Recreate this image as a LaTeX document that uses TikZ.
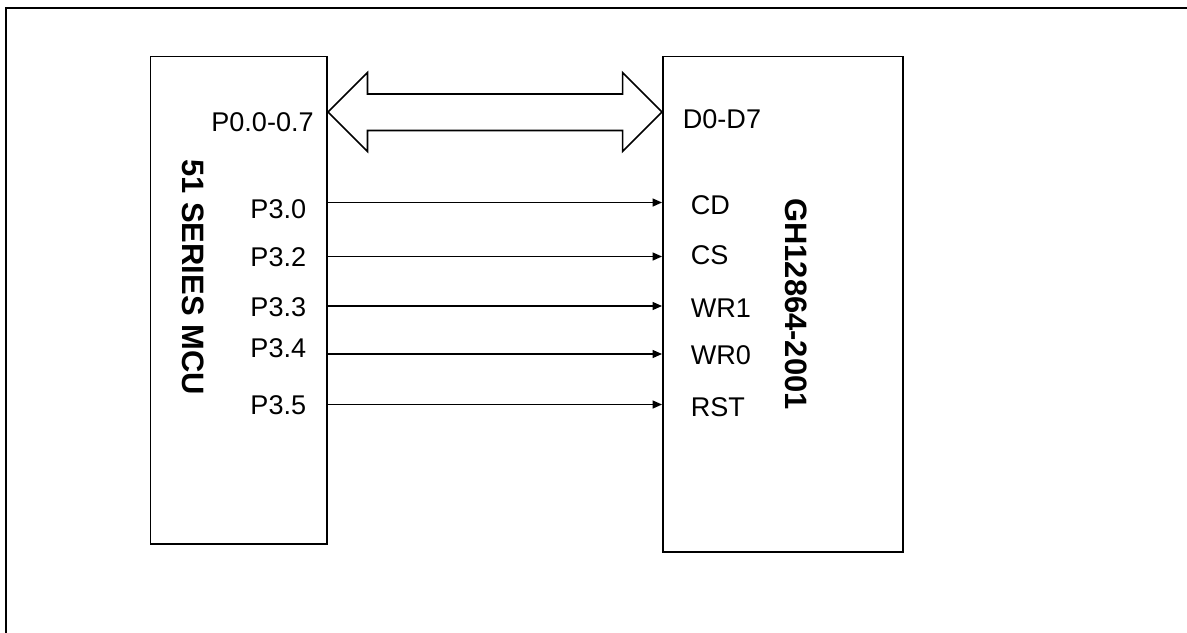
\documentclass[tikz,border=0pt]{standalone}
\usepackage{fontspec}
\setmainfont{Liberation Sans}
\usetikzlibrary{arrows.meta}
\tikzset{
    % Node styles
    chip/.style={rectangle, draw, line width=1.1pt, inner sep=0pt},
    chip name/.style={font=\bfseries\fontsize{17.6}{20}\selectfont, rotate=-90, inner sep=0pt},
    pinlabel/.style={inner sep=0pt, font=\fontsize{15.4}{18}\selectfont},
    % Line styles
    sigline/.style={-{Triangle[length=1.9mm, width=1.6mm]}, line width=0.8pt},
    bus/.style={draw, line width=0.9pt, line join=miter},
    frame/.style={line width=1.1pt},
}

\begin{document}
\begin{tikzpicture}
    \useasboundingbox (0,0) rectangle (23.74,-12.64);
    \draw[frame] (0.12,-12.8) -- (0.12,-0.16) -- (23.9,-0.16);

    % Chips
    \node[chip, minimum width=3.53cm, minimum height=9.75cm] (mcu) at (4.775,-6.005) {};
    \node[chip, minimum width=4.80cm, minimum height=9.91cm] (lcd) at (15.66,-6.085) {};
    \node[chip name] (mcuname) at (3.86,-5.54) {51 SERIES MCU};
    \node[chip name] (lcdname) at (15.93,-6.08) {GH12864-2001};

    % Data bus
    \coordinate (busl) at (mcu.east |- 0,-2.24);
    \coordinate (busr) at (lcd.west |- 0,-2.24);
    \draw[bus] (busl) -- ++(0.79,0.79) -- ++(0,-0.43) -- ([xshift=-0.79cm,yshift=0.36cm]busr)
        -- ++(0,0.43) -- (busr) -- ++(-0.79,-0.79) -- ++(0,0.42)
        -- ([xshift=0.79cm,yshift=-0.37cm]busl) -- ++(0,-0.42) -- cycle;
    \node[pinlabel, anchor=east] (p0) at (6.28,-2.45) {P0.0-0.7};
    \node[pinlabel, anchor=west] (d0) at (13.65,-2.38) {D0-D7};

    % Control lines
    \foreach \y/\lp/\rp/\lab/\rlab [count=\i] in {
        -4.05/-4.18/-4.10/P3.0/CD,
        -5.13/-5.15/-5.10/P3.2/CS,
        -6.12/-6.15/-6.16/P3.3/WR1,
        -7.08/-6.97/-7.10/P3.4/WR0,
        -8.09/-8.10/-8.15/P3.5/RST} {
        \coordinate (out\i) at (mcu.east |- 0,\y);
        \coordinate (in\i) at (lcd.west |- 0,\y);
        \draw[sigline] (out\i) -- (in\i);
        \node[pinlabel, anchor=east] (pl\i) at (6.13,\lp) {\lab};
        \node[pinlabel, anchor=west] (pr\i) at (13.81,\rp) {\rlab};
    }
\end{tikzpicture}
\end{document}
